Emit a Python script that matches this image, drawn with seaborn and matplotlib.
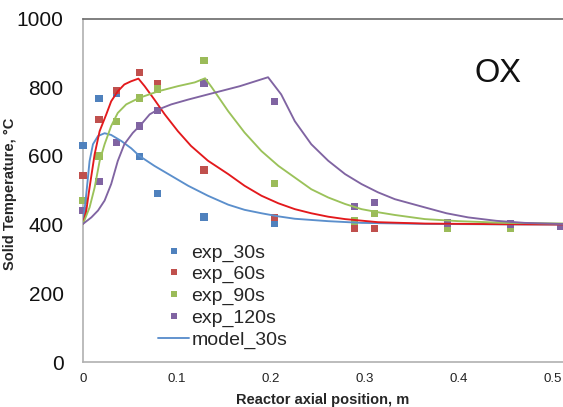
import matplotlib
matplotlib.use("Agg")
import matplotlib.pyplot as plt
import seaborn as sns
import pandas as pd

# Measured solid temperatures (°C) at thermocouple positions along the reactor (m)
x_exp = [0.0, 0.017, 0.036, 0.060, 0.079, 0.129, 0.204, 0.289, 0.310, 0.388, 0.455, 0.508]
exp_30s = [630, 768, 783, 598, 490, 422, 403]
exp_60s = [542, 706, 790, 843, 809, 559, 421, 389, 389, 392, 392]
exp_90s = [470, 600, 701, 769, 795, 877, 520, 410, 433, 388, 388]
exp_120s = [441, 525, 639, 687, 733, 812, 759, 452, 465, 405, 402, 394]

# Model temperature profiles
x_m30 = [0.0, 0.0035, 0.007, 0.0106, 0.016, 0.023, 0.030, 0.041, 0.0514, 0.060, 0.076,
         0.094, 0.112, 0.133, 0.1546, 0.172, 0.190, 0.208, 0.2255, 0.261, 0.2965, 0.364,
         0.430, 0.520]
y_m30 = [402, 489, 585, 634, 658, 666, 661, 643, 622, 600, 571,
         542, 513, 484, 458, 443, 433, 424, 417, 410, 405, 402,
         401, 400]
x_m60 = [0.0, 0.0035, 0.007, 0.0124, 0.0177, 0.0248, 0.030, 0.037, 0.044, 0.051, 0.059,
         0.0656, 0.076, 0.087, 0.101, 0.115, 0.133, 0.1546, 0.172, 0.190, 0.208, 0.2255,
         0.243, 0.261, 0.279, 0.314, 0.364, 0.450, 0.520]
y_m60 = [402, 441, 508, 605, 672, 721, 759, 788, 808, 817, 825,
         803, 764, 721, 672, 629, 586, 547, 513, 484, 462, 445,
         433, 423, 416, 407, 403, 401, 400]
x_m90 = [0.0, 0.007, 0.0124, 0.0177, 0.023, 0.030, 0.037, 0.046, 0.060, 0.080, 0.101,
         0.119, 0.130, 0.137, 0.1546, 0.172, 0.190, 0.208, 0.2255, 0.243, 0.261, 0.279,
         0.2965, 0.314, 0.332, 0.364, 0.400, 0.450, 0.520]
y_m90 = [402, 450, 508, 585, 634, 687, 725, 750, 769, 788, 803,
         814, 826, 800, 730, 668, 614, 571, 537, 503, 479, 460,
         445, 436, 428, 416, 410, 405, 403]
x_m120 = [0.0, 0.0089, 0.016, 0.023, 0.030, 0.037, 0.044, 0.053, 0.062, 0.071, 0.080,
          0.094, 0.112, 0.133, 0.167, 0.197, 0.211, 0.2255, 0.243, 0.261, 0.279, 0.2965,
          0.314, 0.332, 0.364, 0.387, 0.410, 0.440, 0.470, 0.520]
y_m120 = [402, 421, 441, 470, 518, 585, 634, 667, 692, 721, 735,
          750, 764, 779, 803, 829, 779, 701, 634, 586, 547, 518,
          494, 474, 450, 433, 421, 411, 405, 401]

y_ticks = [0, 200, 400, 600, 800, 1000]
x_ticks = [0, 0.1, 0.2, 0.3, 0.4, 0.5]
x_tick_labels = ["0", "0.1", "0.2", "0.3", "0.4", "0.5"]

exp_names = ["exp_30s", "exp_60s", "exp_90s", "exp_120s"]
exp_values = [exp_30s, exp_60s, exp_90s, exp_120s]
mark_colors = ["#4F81BD", "#C0504D", "#9BBB59", "#8064A2"]

models = [("model_30s", x_m30, y_m30, "#5B8FCC"),
          ("model_60s", x_m60, y_m60, "#E3191C"),
          ("model_90s", x_m90, y_m90, "#9BC25A"),
          ("model_120s", x_m120, y_m120, "#8064A2")]

rows = []
for name, vals in zip(exp_names, exp_values):
    for xv, yv in zip(x_exp, vals):
        rows.append({"pos": xv, "temp": yv, "series": name})
exp_df = pd.DataFrame(rows)

sns.set_style("white")
plt.rcParams["font.family"] = ["Liberation Sans", "DejaVu Sans"]

fig = plt.figure(figsize=(5.63, 4.07), dpi=100)
ax = fig.add_axes([83 / 563, 1 - 362 / 407, 1 - 83 / 563, (362 - 18.5) / 407])

sns.scatterplot(data=exp_df, x="pos", y="temp", hue="series", hue_order=exp_names,
                palette=mark_colors, marker="s", s=28, linewidth=0, ax=ax,
                legend=True, zorder=3, clip_on=False)

for name, xs, ys, col in models:
    mdf = pd.DataFrame({"pos": xs, "temp": ys})
    sns.lineplot(data=mdf, x="pos", y="temp", color=col, linewidth=1.35,
                 sort=False, ax=ax, label=name if name == "model_30s" else "_nolegend_",
                 zorder=4)

ax.set_xlim(0, 0.511)
ax.set_ylim(0, 1000)
ax.set_xticks(x_ticks)
ax.set_xticklabels(x_tick_labels)
ax.set_yticks(y_ticks)
ax.tick_params(axis="x", labelsize=9.5, length=0, pad=8, colors="#222222")
ax.tick_params(axis="y", labelsize=15, length=0, pad=14, colors="#111111")

ax.spines["right"].set_visible(False)
ax.spines["left"].set_color("#B0B0B0")
ax.spines["bottom"].set_color("#B0B0B0")
ax.spines["top"].set_color("#6A6A6A")
for sp in ax.spines.values():
    sp.set_linewidth(1.2)

ax.set_xlabel("Reactor axial position, m", fontsize=10.5, fontweight="bold", labelpad=6)
ax.set_ylabel("Solid Temperature, °C", fontsize=10.5, fontweight="bold")
ax.yaxis.set_label_coords((17 - 83) / 480, 0.49)

handles, labels = ax.get_legend_handles_labels()
leg = ax.legend(handles, labels, loc="upper left",
                bbox_to_anchor=(158 / 563, 1 - 244 / 407), bbox_transform=fig.transFigure,
                frameon=False, fontsize=14, labelspacing=0.2, handlelength=1.6,
                handletextpad=0.12, borderpad=0, borderaxespad=0, markerscale=0.75)

fig.text(498 / 563, 1 - 73 / 407, "OX", fontsize=23.5, ha="center", va="center",
         color="#111111")

fig.savefig("out.png", dpi=100)
